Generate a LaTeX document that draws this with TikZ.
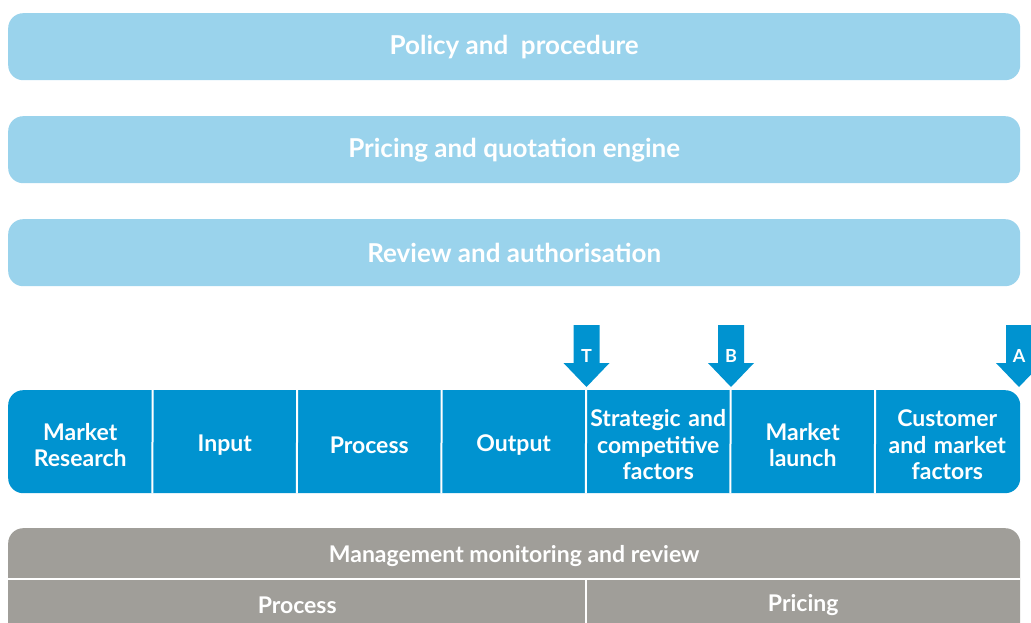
\documentclass[tikz,border=0pt]{standalone}
\usepackage{fontspec}
\setmainfont{Lato}
\usetikzlibrary{shapes}

\definecolor{paleblue}{HTML}{9AD3EC}
\definecolor{deepblue}{HTML}{0093D0}
\definecolor{stone}{HTML}{A09E99}

\begin{document}
\begin{tikzpicture}[x=1pt,y=-1pt]
\tikzstyle{every node}=[font=\bfseries\fontsize{23}{26.5}\selectfont,text=white]
\tikzstyle{band}=[rectangle,rounded corners=15pt,fill=paleblue,minimum width=1012pt,minimum height=67pt,anchor=north west,inner sep=0pt,font=\bfseries\fontsize{26}{28}\selectfont]
\tikzstyle{stage}=[rectangle,minimum width=144.5pt,minimum height=103pt,align=center,text width=142pt,inner sep=0pt]
\tikzstyle{sep}=[white,line width=2pt]
\useasboundingbox (0,0) rectangle (1031,623);
\clip (0,0) rectangle (1031,623);

\node[band](policy) at (8,13) {\raisebox{-2pt}{Policy and\ \ procedure}};
\node[band](pricing) at (8,116) {\raisebox{-2pt}{Pricing and quotation engine}};
\node[band](review) at (8,219) {\raisebox{-2pt}{Review and authorisation}};

% the value chain
\node[band,fill=deepblue,minimum height=103pt](chain) at (8,390) {};
\foreach \i/\name/\txt in {0/research/{Market\\Research},1/input/Input,2/process/Process,3/output/Output,
  4/strategic/{Strategic and\\competitive\\factors},5/launch/{Market\\launch},6/customer/{Customer\\and market\\factors}}
  \node[stage](\name) at (80.25+144.5*\i,445) {\txt};
\foreach \a/\b in {research/input,input/process,process/output,output/strategic,strategic/launch,launch/customer}
  \draw[sep] (\a.north east |- chain.north) -- (\b.south west |- chain.south);

% drop-in arrows
\foreach \x/\l in {586.5/T,731/B,1019/A}{
  \fill[deepblue] (\x-13,325) -- (\x+13,325) -- (\x+13,363) -- (\x+23,363) -- (\x,387)
    -- (\x-23,363) -- (\x-13,363) -- cycle;
  \node[font=\bfseries\fontsize{18}{18}\selectfont](tag\l) at (\x,356) {\l};
}

% monitoring
\node[band,fill=stone,minimum height=130pt](monitor) at (8,528) {};
\node[minimum width=1012pt,minimum height=51pt,inner sep=0pt,anchor=north west](mgmt) at (8,530) {Management monitoring and review};
\node[minimum width=578pt,minimum height=50pt,inner sep=0pt,anchor=north west](mproc) at (8,580) {Process};
\node[minimum width=434pt,minimum height=50pt,inner sep=0pt,anchor=north west](mprice) at (586,580) {Pricing};
\draw[sep] (mgmt.south west |- 0,579) -- (mgmt.south east |- 0,579);
\draw[sep] (mprice.north west) -- (mprice.south west);
\end{tikzpicture}
\end{document}
